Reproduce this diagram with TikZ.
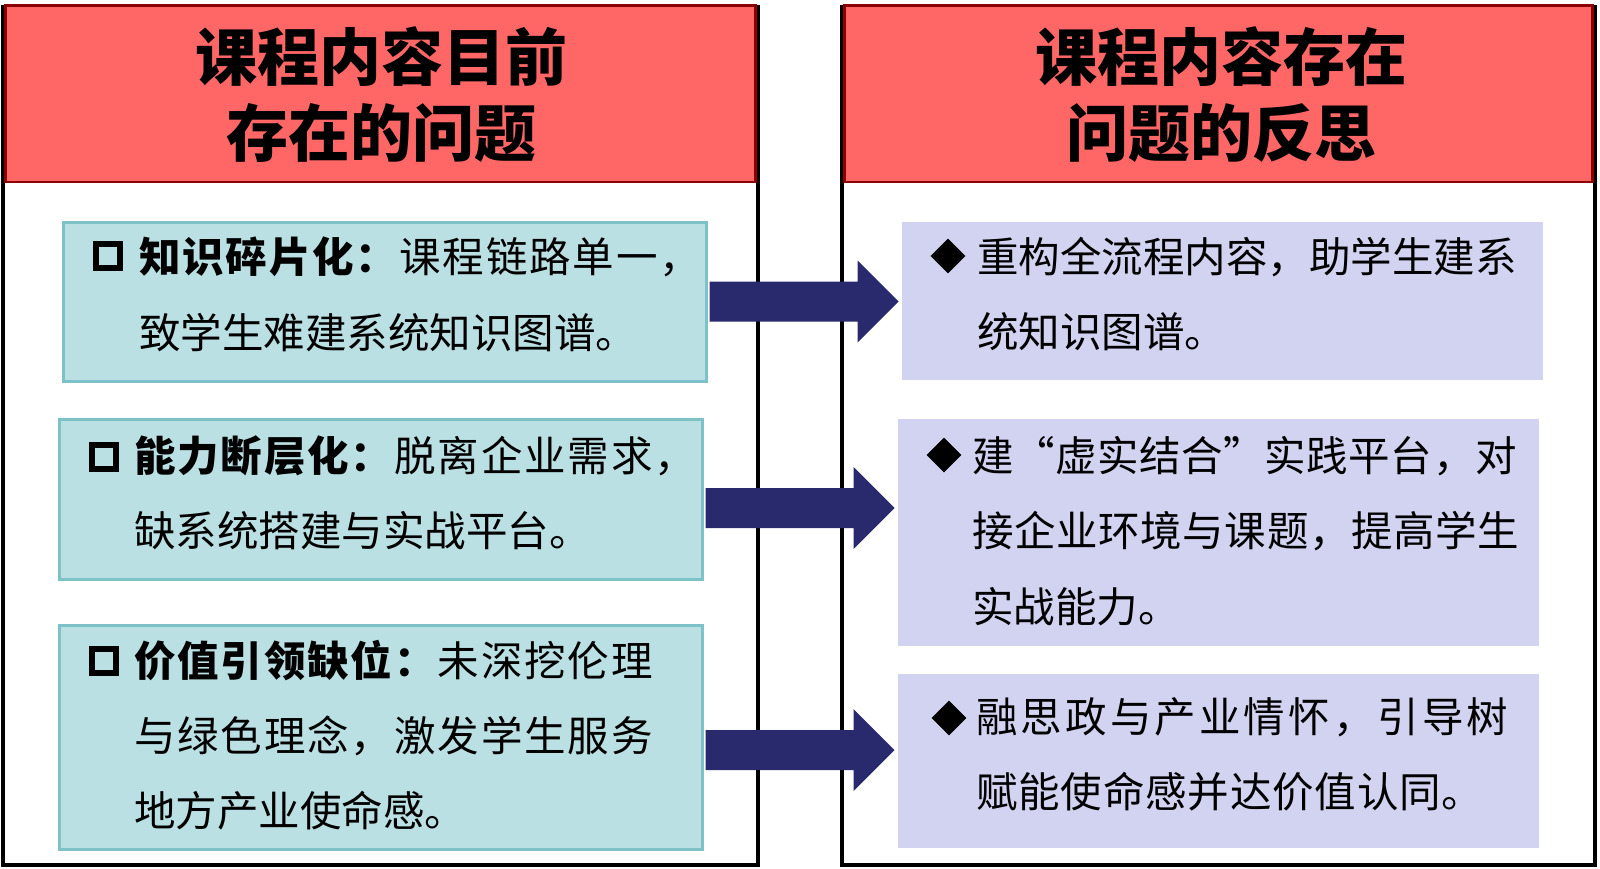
\documentclass[tikz,border=0pt]{standalone}
\usepackage{fontspec}
\newfontfamily\cjk{Noto Sans CJK SC}
\usetikzlibrary{shapes.geometric,calc}
\definecolor{hdr}{HTML}{FF6666}
\definecolor{hdrline}{HTML}{8B0000}
\definecolor{cyanfill}{HTML}{BBE0E3}
\definecolor{cyanline}{HTML}{7CC2C7}
\definecolor{lavfill}{HTML}{D2D3F0}
\definecolor{arrowc}{HTML}{29296E}
\newcommand\lsp[1]{\addfontfeatures{LetterSpace=#1}}
\begin{document}
\begin{tikzpicture}[x=1pt,y=-1pt,
  panelline/.style={draw=black,line width=4pt},
  header/.style={fill=hdr,draw=hdrline,line width=2.5pt,inner sep=0},
  probbox/.style={fill=cyanfill,draw=cyanline,line width=3pt,inner sep=0},
  refbox/.style={fill=lavfill,inner sep=0},
  title/.style={font=\cjk\bfseries\fontsize{62}{62}\selectfont,inner sep=0,anchor=base},
  body/.style={font=\cjk\fontsize{41.5}{41.5}\selectfont,inner sep=0,anchor=base west},
  sqmark/.style={draw=black,line width=6pt,minimum size=24.5pt,inner sep=0},
  dmark/.style={diamond,fill=black,minimum size=35pt,inner sep=0},
  fatarrow/.pic={\fill[arrowc] (0,-20) -- (148,-20) -- (148,-41) -- (189,0) -- (148,41) -- (148,20) -- (0,20) -- cycle;}
]
\useasboundingbox (0,0) rectangle (1600,868);
\fill[white] (0,0) rectangle (1600,868);

% panels
\node[inner sep=0,minimum width=755pt,minimum height=860pt] (lp) at (380.5,435) {};
\node[inner sep=0,minimum width=753pt,minimum height=860pt] (rp) at (1218.5,435) {};
\draw[panelline] (lp.north west) -- (lp.south west) -- (lp.south east) -- (lp.north east);
\draw[panelline] (rp.north west) -- (rp.south west) -- (rp.south east) -- (rp.north east);
\node[header,minimum width=750pt,minimum height=176.5pt] (lh) at (380.5,93.75) {};
\node[header,minimum width=748pt,minimum height=176.5pt] (rh) at (1218.5,93.75) {};

% titles
\node[title] (lt1) at (381,80.6) {课程内容目前};
\node[title] (lt2) at (381,156.6) {存在的问题};
\node[title] (rt1) at (1221,80.6) {课程内容存在};
\node[title] (rt2) at (1221,156.6) {问题的反思};

% problem boxes
\node[probbox,minimum width=643pt,minimum height=159pt] (l1) at (384.5,301.5) {};
\node[probbox,minimum width=643pt,minimum height=160pt] (l2) at (380.5,499) {};
\node[probbox,minimum width=643pt,minimum height=224pt] (l3) at (380.5,737) {};

% reflection boxes
\node[refbox,minimum width=641pt,minimum height=158pt] (r1) at (1222.5,301) {};
\node[refbox,minimum width=641pt,minimum height=227pt] (r2) at (1218.5,532.5) {};
\node[refbox,minimum width=641pt,minimum height=174pt] (r3) at (1218.5,761) {};

% markers
\node[sqmark] (m1) at (108,256) {};
\node[sqmark] (m2) at (104,457) {};
\node[sqmark] (m3) at (104,661) {};
\node[dmark] (d1) at (948,256) {};
\node[dmark] (d2) at (944,455) {};
\node[dmark] (d3) at (949,718) {};

% left texts
\node[body] (l1a) at (139,272) {\lsp{4.5}\textbf{知识碎片化：}课程链路单一，};
\node[body] (l1b) at (139,348) {致学生难建系统知识图谱。};
\node[body] (l2a) at (134,471) {\lsp{4.5}\textbf{能力断层化：}脱离企业需求，};
\node[body] (l2b) at (134,546) {缺系统搭建与实战平台。};
\node[body] (l3a) at (134,676) {\lsp{4.5}\textbf{价值引领缺位：}未深挖伦理};
\node[body] (l3b) at (134,751) {\lsp{4.5}与绿色理念，激发学生服务};
\node[body] (l3c) at (134,826) {地方产业使命感。};

% right texts
\node[body] (r1a) at (977,272) {重构全流程内容，助学生建系};
\node[body] (r1b) at (977,347) {统知识图谱。};
\node[body] (r2a) at (972,471) {\lsp{1.5}建\makebox[1em][r]{“}虚实结合\makebox[1em][l]{”}实践平台，对};
\node[body] (r2b) at (972,546) {\lsp{1.5}接企业环境与课题，提高学生};
\node[body] (r2c) at (972,622) {实战能力。};
\node[body] (r3a) at (976,732) {\lsp{7.5}融思政与产业情怀，引导树};
\node[body] (r3b) at (976,807) {\lsp{2}赋能使命感并达价值认同。};

% arrows
\pic at ($(l1.east)+(2,0)$) {fatarrow};
\pic at ($(l2.east)+(2,9)$) {fatarrow};
\pic at ($(l3.east)+(2,13)$) {fatarrow};
\end{tikzpicture}
\end{document}
